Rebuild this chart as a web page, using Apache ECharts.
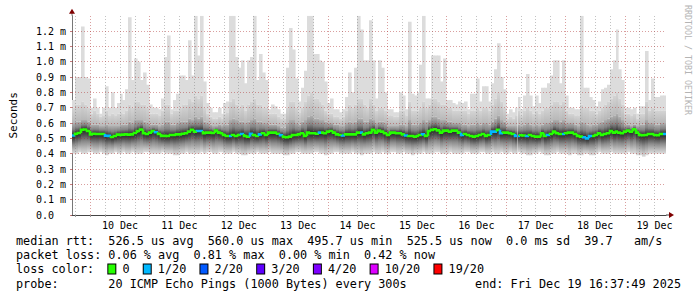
<!DOCTYPE html>
<html><head><meta charset="utf-8">
<script src="https://cdn.jsdelivr.net/npm/echarts@6/dist/echarts.min.js"></script>
<style>html,body{margin:0;padding:0;background:#fff}#c{width:697px;height:297px}</style>
</head><body><div id="c"></div><script>
// ---- data (values in milliseconds; one column = 72 min consolidated step) ----
const startHour = 16 + 37 / 60 + 49 / 3600;   // Dec 9 16:37:49 (hours since Dec 9 00:00)
const stepHours = 1.2;
const spanHours = 240;

const pMed = [
 .518,.530,.535,.556,.558,.548,.526,.530,.528,.528,.528,.517,.516,.509,.515,.524,.522,.524,.526,.524,.526,.535,.548,.558,.533,.528,.537,.548,.540,.528,.516,.516,.515,
 .522,.522,.526,.526,.530,.533,.544,.556,.544,.548,.548,.533,.537,.537,.535,.550,.537,.533,.522,.515,.515,.522,.515,.522,.528,.515,.511,.530,.522,.515,.526,.533,.522,
 .537,.537,.537,.530,.520,.509,.507,.511,.522,.522,.526,.533,.515,.537,.533,.533,.530,.537,.537,.533,.544,.548,.537,.526,.522,.518,.526,.526,.526,.526,.537,.537,.526,.533,
 .537,.556,.537,.550,.544,.533,.522,.537,.537,.533,.533,.526,.518,.515,.515,.511,.515,.522,.526,.515,.548,.555,.559,.552,.537,.550,.550,.544,.550,.550,.537,.522,.528,
 .522,.515,.511,.515,.522,.528,.515,.522,.544,.544,.556,.533,.537,.537,.533,.528,.515,.515,.520,.518,.515,.522,.515,.511,.511,.533,.515,.522,.528,.544,.533,.528,.528,
 .533,.537,.537,.528,.515,.511,.507,.500,.515,.515,.522,.533,.522,.528,.533,.548,.537,.544,.537,.533,.544,.550,.544,.559,.537,.522,.520,.522,.528,.528,.522,.520,.528,.528
];
const pMax = [
 .75,.90,.90,1.23,.90,.89,.70,.76,.70,.66,.70,.84,.70,.80,.70,.73,.79,.75,.82,1.29,.88,1.02,1.00,.88,.93,.85,.72,.70,.70,.69,.76,1.03,1.17,
 .69,.75,.79,.91,.91,.88,1.14,.91,1.30,1.04,1.30,.87,.73,.70,.67,.67,.70,.66,.73,.74,1.30,1.30,1.03,.96,1.01,.86,1.01,1.03,1.30,.88,1.05,.93,.88,
 .69,.72,.71,.69,.66,.66,.96,1.22,1.08,.89,.74,.83,.94,1.30,1.30,1.05,1.05,1.01,1.00,.87,.73,.76,.69,.69,.67,.69,.77,.93,.80,.96,1.30,1.21,1.01,1.01,
 1.27,1.01,.76,1.01,.96,.80,.69,.69,.67,.67,.80,.78,.69,1.26,.79,.78,.80,.98,1.30,.76,.76,1.04,1.04,1.04,.87,1.02,.75,.75,.73,.72,.74,.73,.74,
 .69,.79,.79,.89,.74,.84,.84,.74,.86,.95,1.12,.90,.82,.66,.69,.67,.70,.77,.69,.78,.92,.78,.71,.78,.73,.83,.83,.86,.91,1.01,1.01,.86,1.01,
 .78,.70,.70,.69,.69,1.30,.83,.83,.77,.75,.71,.74,.82,.83,.85,.95,1.01,1.21,.95,.88,.70,.70,.69,.70,.66,.71,.71,1.07,.75,.89,.77,.77,.78,.78
];
const pHi2 = [
 .70,.72,.72,.74,.72,.70,.66,.68,.66,.64,.65,.68,.65,.66,.65,.66,.67,.66,.68,.72,.70,.74,.74,.72,.72,.70,.66,.66,.66,.65,.68,.72,.72,
 .66,.68,.68,.70,.72,.72,.76,.74,.78,.76,.78,.70,.66,.64,.63,.63,.64,.63,.66,.67,.74,.76,.72,.70,.72,.68,.72,.74,.76,.72,.72,.70,.70,
 .66,.66,.66,.64,.63,.63,.70,.74,.74,.70,.67,.70,.74,.78,.80,.76,.76,.74,.72,.68,.66,.66,.64,.64,.63,.64,.68,.72,.70,.72,.76,.76,.72,.70,
 .76,.72,.68,.70,.70,.68,.65,.65,.64,.64,.68,.68,.65,.74,.68,.68,.68,.70,.74,.70,.72,.76,.76,.74,.72,.72,.70,.70,.68,.68,.68,.68,.68,
 .66,.68,.68,.70,.68,.70,.70,.68,.72,.76,.80,.74,.70,.63,.64,.63,.65,.68,.65,.68,.70,.68,.66,.68,.66,.68,.70,.70,.72,.74,.74,.72,.74,
 .68,.66,.66,.65,.65,.72,.70,.70,.68,.68,.66,.68,.70,.72,.74,.76,.78,.80,.76,.72,.66,.66,.65,.66,.63,.66,.66,.74,.68,.70,.68,.68,.68,.68
];
const pHi1 = [
 .60,.61,.61,.62,.62,.61,.59,.59,.59,.58,.58,.59,.58,.58,.58,.58,.59,.59,.59,.61,.60,.62,.62,.62,.61,.60,.59,.59,.59,.58,.59,.61,.61,
 .59,.59,.60,.61,.61,.61,.63,.62,.64,.63,.64,.61,.60,.59,.58,.58,.59,.58,.59,.59,.62,.63,.62,.61,.61,.60,.61,.62,.63,.61,.61,.60,.60,
 .59,.59,.59,.58,.57,.57,.60,.62,.62,.60,.59,.61,.62,.64,.65,.63,.63,.62,.62,.61,.60,.60,.59,.59,.58,.58,.60,.61,.60,.61,.63,.63,.61,.61,
 .63,.62,.60,.61,.61,.60,.58,.58,.58,.58,.59,.59,.58,.62,.59,.59,.59,.60,.62,.61,.62,.64,.64,.63,.62,.62,.61,.61,.60,.60,.60,.59,.59,
 .58,.59,.59,.60,.59,.60,.60,.59,.61,.63,.65,.62,.61,.58,.58,.58,.58,.59,.58,.59,.60,.59,.58,.59,.58,.59,.60,.60,.61,.62,.62,.61,.62,
 .60,.60,.60,.59,.58,.61,.60,.59,.58,.59,.59,.60,.61,.62,.63,.64,.65,.66,.64,.62,.59,.59,.58,.59,.58,.59,.59,.62,.60,.60,.59,.59,.60,.60
];
const pMin = [
 .40,.40,.41,.40,.40,.41,.41,.40,.40,.41,.40,.39,.40,.40,.41,.40,.40,.41,.40,.40,.41,.40,.40,.40,.41,.41,.40,.40,.40,.40,.41,.40,.40,
 .40,.39,.39,.40,.40,.41,.40,.40,.40,.40,.41,.40,.41,.41,.40,.40,.41,.41,.40,.40,.40,.41,.40,.40,.39,.39,.40,.40,.40,.41,.40,.40,.40,
 .41,.40,.40,.40,.40,.39,.39,.40,.40,.41,.41,.40,.40,.40,.40,.41,.41,.40,.40,.39,.40,.40,.41,.41,.40,.40,.40,.40,.41,.40,.40,.39,.40,.40,
 .40,.41,.40,.40,.41,.40,.40,.41,.41,.40,.40,.41,.40,.40,.39,.40,.40,.40,.41,.40,.40,.40,.41,.41,.40,.40,.40,.41,.40,.40,.40,.40,.41,
 .41,.40,.40,.40,.41,.41,.40,.40,.41,.40,.40,.41,.40,.40,.41,.40,.40,.41,.40,.40,.39,.39,.40,.40,.41,.40,.39,.39,.40,.40,.41,.40,.40,
 .40,.39,.40,.40,.39,.39,.40,.40,.39,.39,.40,.41,.40,.40,.40,.41,.40,.40,.40,.40,.40,.41,.40,.40,.39,.39,.38,.39,.40,.40,.40,.40,.40,.40
];
// columns whose median is drawn in the 1/20 loss colour
const lossCols = [0,11,12,28,42,43,53,57,60,63,70,83,91,97,112,118,131,141,142,144,149,150,153,160,165,172,173,174,199];

const lossLabels = ['0','1/20','2/20','3/20','4/20','10/20','19/20'];
const lossColors = ['#26ff00','#00b8ff','#0059ff','#5e00ff','#7e00ff','#dd00ff','#ff0000'];
const dayLabels = ['10 Dec','11 Dec','12 Dec','13 Dec','14 Dec','15 Dec','16 Dec','17 Dec','18 Dec','19 Dec'];
const dayNoonHours = [36,60,84,108,132,156,180,204,228];
dayNoonHours.push(252);
const yTicks = [0,0.1,0.2,0.3,0.4,0.5,0.6,0.7,0.8,0.9,1.0,1.1,1.2];

const statsLine1 = 'median rtt:  526.5 us avg  560.0 us max  495.7 us min  525.5 us now  0.0 ms sd  39.7   am/s';
const statsLine2 = 'packet loss: 0.06 % avg  0.81 % max  0.00 % min  0.42 % now';
const probeLine = 'probe:       20 ICMP Echo Pings (1000 Bytes) every 300s';
const endLine = 'end: Fri Dec 19 16:37:49 2025';

// ---- build ----
const MONO = '"DejaVu Sans Mono", monospace';
const xMin = startHour, xMax = startHour + spanHours;
const gridHours = [];
for (let h = Math.ceil(xMin / 6) * 6; h < xMax; h += 6) gridHours.push(h);

const smokeData = pMed.map((m, i) => {
  const t = startHour + i * stepHours;
  return [t, t + stepHours, pMin[i], m, pHi1[i], pHi2[i], pMax[i]];
});
const medData = pMed.map((m, i) => {
  const t = startHour + i * stepHours;
  return [t, t + stepHours, m, i > 0 ? pMed[i - 1] : m, lossCols.indexOf(i) >= 0 ? 1 : 0];
});

const LG = echarts.graphic.LinearGradient;
const gLow = new LG(0, 0, 0, 1, [
  {offset: 0, color: '#262626'}, {offset: 0.22, color: '#4e4e4e'},
  {offset: 0.5, color: '#8c8c8c'}, {offset: 0.78, color: '#bcbcbc'}, {offset: 1, color: '#dcdcdc'}]);
const gHi1 = new LG(0, 0, 0, 1, [
  {offset: 0, color: '#b0b0b0'}, {offset: 0.5, color: '#848484'}, {offset: 1, color: '#2a2a2a'}]);
const gHi2 = new LG(0, 0, 0, 1, [
  {offset: 0, color: '#d4d4d4'}, {offset: 1, color: '#b8b8b8'}]);

function renderSmoke(params, api) {
  const t0 = api.value(0), t1 = api.value(1);
  const xa = Math.round(api.coord([t0, 0])[0]), xb = Math.round(api.coord([t1, 0])[0]);
  const w = xb - xa + 0.6;   // slight overlap hides anti-aliasing seams
  const Y = d => api.coord([t0, api.value(d)])[1];
  const yMin = Y(2), yMed = Y(3), yH1 = Y(4), yH2 = Y(5), yMax = Y(6);
  const kids = [];
  const band = (y1, y2, fill) => { if (y2 - y1 > 0) kids.push({type: 'rect', shape: {x: xa, y: y1, width: w, height: y2 - y1}, style: {fill: fill, stroke: null}}); };
  band(yMax, yH2, '#dcdcdc');
  band(yH2, yH1, gHi2);
  band(yH1, yMed, gHi1);
  band(yMed, yMin, gLow);
  return {type: 'group', children: kids};
}
function renderMedian(params, api) {
  const t0 = api.value(0), t1 = api.value(1);
  const xa = Math.round(api.coord([t0, 0])[0]), xb = Math.round(api.coord([t1, 0])[0]);
  const y = api.coord([t0, api.value(2)])[1];
  const pts = [];
  if (params.dataIndex > 0) pts.push([xa, api.coord([t0, api.value(3)])[1]]);
  pts.push([xa, y], [xb, y]);
  return {type: 'polyline', shape: {points: pts},
    style: {stroke: api.value(4) ? lossColors[1] : lossColors[0], lineWidth: 2.6, fill: null}};
}

const MAJOR = 'rgba(170,40,40,0.45)', MINOR = 'rgba(120,120,120,0.45)';
const gridLines = [];
gridHours.forEach(h => gridLines.push({xAxis: h, lineStyle: {color: h % 24 === 0 ? MAJOR : MINOR, type: [1, 2], width: 1}}));
yTicks.filter(v => v > 0).forEach(v => gridLines.push({yAxis: v, lineStyle: {color: MAJOR, type: [1, 2], width: 1}}));

const chart = echarts.init(document.getElementById('c'), null, {renderer: 'svg', width: 697, height: 297});
chart.setOption({
  animation: false,
  backgroundColor: '#ffffff',
  grid: {left: 66, right: 31, top: 15.67, bottom: 82},
  xAxis: {
    type: 'value', min: xMin, max: xMax,
    axisLine: {show: true, lineStyle: {color: '#444', width: 1}},
    axisTick: {show: true, customValues: gridHours, length: 2, lineStyle: {color: '#999'}},
    axisLabel: {customValues: dayNoonHours, fontFamily: MONO, fontSize: 10, color: '#000', margin: 5,
      formatter: v => dayLabels[Math.round((v - 36) / 24)]},
    splitLine: {show: false}
  },
  yAxis: {
    type: 'value', min: 0, max: 1.3, interval: 0.1,
    name: 'Seconds', nameLocation: 'middle', nameGap: 53,
    nameTextStyle: {fontFamily: MONO, fontSize: 11, color: '#000'},
    axisLine: {show: true, lineStyle: {color: '#777', width: 1}},
    axisTick: {show: true, customValues: yTicks, length: 2, lineStyle: {color: 'rgba(160,40,40,0.6)'}},
    axisLabel: {customValues: yTicks, fontFamily: MONO, fontSize: 10, color: '#000', margin: 6,
      formatter: v => v === 0 ? '0.0\u00a0\u00a0' : v.toFixed(1) + ' m'},
    splitLine: {show: false}
  },
  series: [
    {type: 'custom', name: 'smoke', coordinateSystem: 'cartesian2d', renderItem: renderSmoke,
      data: smokeData, encode: {x: [0, 1], y: [2, 3, 4, 5, 6]}, clip: true, silent: true, z: 2,
      markLine: {silent: true, symbol: ['none', 'none'], label: {show: false}, data: gridLines, z: 5, animation: false}},
    {type: 'custom', name: 'median', coordinateSystem: 'cartesian2d', renderItem: renderMedian,
      data: medData, encode: {x: [0, 1], y: 2}, clip: true, silent: true, z: 6}
  ]
});

// axis arrows and text block
const pR = chart.convertToPixel({gridIndex: 0}, [xMax, 0]);
const pT = chart.convertToPixel({gridIndex: 0}, [xMin, 1.3]);
const ARROW = '#7f0000';
const richBoxes = {};
let lossText = 'loss color:  ';
lossLabels.forEach((lab, i) => {
  richBoxes['s' + i] = {width: 7, height: 9, backgroundColor: lossColors[i], borderColor: '#000', borderWidth: 1};
  lossText += '{s' + i + '|} ' + lab + '  ';
});
const txt = (x, y, text, extra) => Object.assign({type: 'text', x: x, y: y, silent: true,
  style: Object.assign({text: text, font: '11.8px ' + MONO, fill: '#000', align: 'left', verticalAlign: 'middle'}, extra || {})});
chart.setOption({
  graphic: [
    {type: 'line', silent: true, shape: {x1: pR[0], y1: pR[1], x2: pR[0] + 4, y2: pR[1]}, style: {stroke: '#444', lineWidth: 1}},
    {type: 'polygon', silent: true, shape: {points: [[pR[0] + 3, pR[1] - 3], [pR[0] + 8, pR[1]], [pR[0] + 3, pR[1] + 3]]}, style: {fill: ARROW}},
    {type: 'line', silent: true, shape: {x1: pT[0], y1: pT[1], x2: pT[0], y2: pT[1] - 3}, style: {stroke: '#777', lineWidth: 1}},
    {type: 'polygon', silent: true, shape: {points: [[pT[0] - 3, pT[1] - 2], [pT[0], pT[1] - 7], [pT[0] + 3, pT[1] - 2]]}, style: {fill: ARROW}},
    txt(16, 241, statsLine1),
    txt(16, 255, statsLine2),
    txt(16, 269, lossText, {rich: richBoxes}),
    txt(16, 284, probeLine),
    txt(681, 284, endLine, {align: 'right'}),
    {type: 'text', x: 688, y: 5, rotation: -Math.PI / 2, silent: true,
      style: {text: 'RRDTOOL / TOBI OETIKER', font: '8.3px ' + MONO, fill: '#b4b4b4', align: 'left', verticalAlign: 'middle'}}
  ]
});
</script></body></html>
